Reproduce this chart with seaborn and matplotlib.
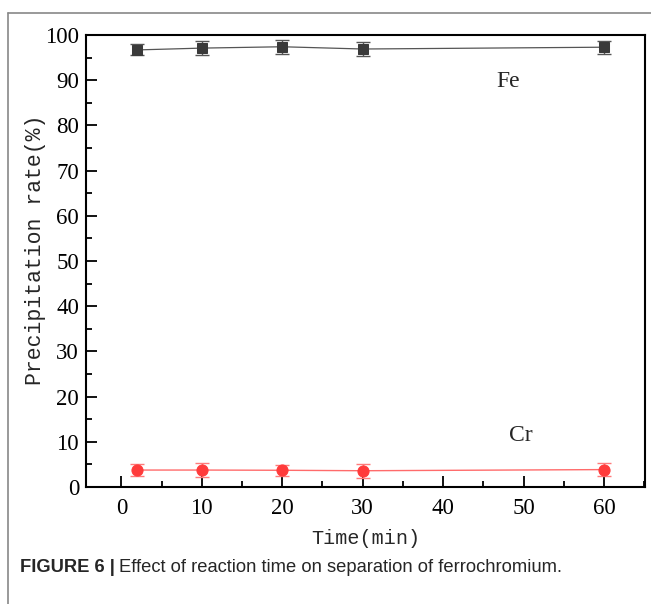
import numpy as np
import pandas as pd
import matplotlib
matplotlib.use("Agg")
import matplotlib.pyplot as plt
from matplotlib.lines import Line2D
from matplotlib.ticker import MultipleLocator
import seaborn as sns

# data
time_min = [2, 10, 20, 30, 60]
fe_rate = [96.7, 97.1, 97.4, 96.9, 97.3]
fe_err = [1.2, 1.6, 1.5, 1.45, 1.4]
cr_rate = [3.75, 3.75, 3.7, 3.6, 3.85]
cr_err = [1.3, 1.5, 1.25, 1.55, 1.5]

sns.set_style("ticks")
plt.rcParams['font.family'] = ['Liberation Serif', 'DejaVu Serif']

df = pd.DataFrame({
    "time": time_min * 2,
    "rate": fe_rate + cr_rate,
    "metal": ["Fe"] * len(time_min) + ["Cr"] * len(time_min),
})

fig = plt.figure(figsize=(6.51, 6.04), dpi=100)
ax = fig.add_axes([86 / 651, 1 - 487 / 604, (645 - 86) / 651, (487 - 35) / 604])

fe_col = "#3a3a3a"
cr_col = "#ff3b3b"

sns.lineplot(data=df[df.metal == "Fe"], x="time", y="rate", ax=ax, color="#555555",
             lw=0.9, marker="s", markersize=7, markerfacecolor=fe_col,
             markeredgecolor=fe_col, zorder=3)
sns.lineplot(data=df[df.metal == "Cr"], x="time", y="rate", ax=ax, color="#ff6b6b",
             lw=1.0, marker="o", markersize=8, markerfacecolor=cr_col,
             markeredgecolor=cr_col, zorder=3)
ax.errorbar(time_min, fe_rate, yerr=fe_err, fmt="none", ecolor="#555555",
            elinewidth=1.0, capsize=5, capthick=1.0, zorder=2)
ax.errorbar(time_min, cr_rate, yerr=cr_err, fmt="none", ecolor="#ff7a7a",
            elinewidth=1.0, capsize=5, capthick=1.0, zorder=2)

ax.set_xlim(-4.4, 65.1)
ax.set_ylim(0, 100)
ax.xaxis.set_major_locator(MultipleLocator(10))
ax.xaxis.set_minor_locator(MultipleLocator(5))
ax.yaxis.set_major_locator(MultipleLocator(10))
ax.yaxis.set_minor_locator(MultipleLocator(5))
ax.tick_params(which="both", direction="in", top=False, right=False, labelsize=16.5,
               width=1.3, colors="black")
ax.tick_params(which="major", length=8)
ax.tick_params(axis="x", which="major", pad=8)
ax.tick_params(axis="y", which="major", pad=5)
ax.tick_params(which="minor", length=4)
for s in ax.spines.values():
    s.set_visible(True)
    s.set_linewidth(1.5)
    s.set_color("black")

mono = ["Liberation Mono", "DejaVu Sans Mono"]
ax.set_xlabel("Time(min)", fontsize=14.5, family=mono, labelpad=7)
ax.set_ylabel("Precipitation rate(%)", fontsize=15.5, family=mono, labelpad=-1)
ax.yaxis.label.set_y(0.525)

ax.text(48.1, 89.8, "Fe", fontsize=17, ha="center", va="center")
ax.text(49.6, 11.3, "Cr", fontsize=17, ha="center", va="center")

# figure frame lines (top and left)
fig.add_artist(Line2D([8 / 651, 1], [1 - 13 / 604] * 2, color="#888888", lw=1.2,
                      transform=fig.transFigure))
fig.add_artist(Line2D([8 / 651] * 2, [0, 1 - 13 / 604], color="#888888", lw=1.2,
                      transform=fig.transFigure))

# caption
cap_y = 1 - 567 / 604
sans = ["Liberation Sans", "DejaVu Sans"]
t1 = fig.text(20 / 651, cap_y, "FIGURE 6 |", fontsize=13.2, fontweight="bold",
              family=sans, va="center")
fig.canvas.draw()
bb = t1.get_window_extent()
fig.text((bb.x1 + 4) / 651, cap_y, "Effect of reaction time on separation of ferrochromium.",
         fontsize=13.2, family=sans, va="center")

fig.savefig("out.png", dpi=100)
